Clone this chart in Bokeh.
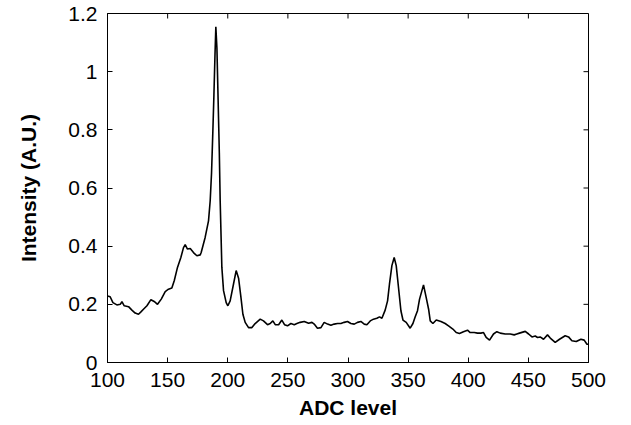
import math
from bokeh.plotting import figure
from bokeh.models import Range1d, FixedTicker, ColumnDataSource
from bokeh.embed import file_html
from bokeh.resources import INLINE

adc = [100, 102.2, 104.5, 107.8, 110.6, 112, 113.9, 117.5, 120.3, 123, 125.8, 127.8, 129.9,
       132.8, 136.1, 138.8, 141.6, 144.7, 148, 150.7, 153.5, 155.5, 158.2, 161, 163.2, 164.6,
       166.5, 168.8, 171.5, 174.3, 177.1, 177.9, 181.2, 184, 185.4, 186.5, 187.5, 188.5, 189.4,
       190.1, 191, 192, 193, 193.7, 195.1, 196.5, 198.7, 200.1, 202, 204.8, 207, 209,
       210.8, 212.6, 214.5, 217.3, 220.1, 222.8, 227, 229.7, 233.1, 235.3, 237.5, 239.5,
       242.3, 245, 247.2, 249.7, 252.5, 255.3, 257.5, 260.2, 263.6, 267.2, 270, 271.9, 274.6,
       277.5, 280.2, 283, 285.8, 288.5, 291.3, 294.1, 296.8, 299.6, 302.4, 305.2, 307.9,
       310.7, 313.5, 315.7, 318.5, 321.2, 324, 326.2, 328.2, 330.9, 332.9, 334.5, 336.5,
       338.4, 340.1, 342, 344, 345.7, 348.4, 351.7, 354, 355.9, 357.8, 359.5, 362.8, 365,
       367, 368.4, 370.6, 373.4, 377.3, 380.8, 383.6, 387.2, 390, 392.7, 396, 399.4, 401.6,
       405, 407.7, 410.5, 412.7, 414.9, 417.7, 421, 423.8, 426.6, 430.7, 434.9, 438.2, 440.4,
       442.6, 447.4, 450.2, 453, 455.7, 457.6, 459.8, 462.6, 465.9, 468.2, 472.3, 475.9,
       480.6, 483.4, 486.2, 489.8, 493.7, 496.4, 498.7, 500]

intensity = [0.229, 0.226, 0.206, 0.198, 0.200, 0.209, 0.195, 0.192, 0.180, 0.170, 0.166, 0.174, 0.183,
             0.195, 0.216, 0.210, 0.200, 0.218, 0.244, 0.252, 0.256, 0.281, 0.327, 0.361, 0.395, 0.405,
             0.390, 0.392, 0.378, 0.367, 0.370, 0.378, 0.430, 0.487, 0.556, 0.650, 0.780, 0.920, 1.060,
             1.154, 1.080, 0.900, 0.720, 0.556, 0.327, 0.247, 0.206, 0.195, 0.212, 0.270, 0.316, 0.290,
             0.230, 0.166, 0.138, 0.120, 0.120, 0.134, 0.149, 0.143, 0.130, 0.134, 0.143, 0.130,
             0.130, 0.146, 0.130, 0.126, 0.134, 0.130, 0.134, 0.138, 0.141, 0.135, 0.138, 0.132, 0.118,
             0.120, 0.138, 0.132, 0.128, 0.132, 0.134, 0.134, 0.138, 0.141, 0.134, 0.132, 0.138,
             0.141, 0.132, 0.130, 0.143, 0.149, 0.152, 0.157, 0.152, 0.180, 0.212, 0.270, 0.333,
             0.361, 0.333, 0.258, 0.178, 0.146, 0.138, 0.118, 0.134, 0.157, 0.178, 0.218, 0.267, 0.224,
             0.184, 0.143, 0.134, 0.146, 0.141, 0.134, 0.126, 0.115, 0.103, 0.100, 0.106, 0.111, 0.103,
             0.103, 0.101, 0.101, 0.103, 0.086, 0.077, 0.098, 0.106, 0.101, 0.098, 0.098, 0.095, 0.098,
             0.101, 0.107, 0.098, 0.088, 0.091, 0.086, 0.088, 0.080, 0.095, 0.084, 0.069, 0.080,
             0.092, 0.088, 0.075, 0.072, 0.080, 0.077, 0.063, 0.063]

x_ticks = [100, 150, 200, 250, 300, 350, 400, 450, 500]
y_ticks = [0, 0.2, 0.4, 0.6, 0.8, 1.0, 1.2]
y_tick_labels = ["0", "0.2", "0.4", "0.6", "0.8", "1", "1.2"]

x_label = "ADC level"
y_label = "Intensity (A.U.)"

X_MIN, X_MAX = 100, 500
Y_MIN, Y_MAX = 0, 1.2

FONT = "Liberation Sans"
FS = "21px"

p = figure(width=631, height=425, output_backend="svg", toolbar_location=None,
           x_range=Range1d(X_MIN, X_MAX), y_range=Range1d(Y_MIN, Y_MAX),
           min_border_left=107, min_border_right=43, min_border_top=13, min_border_bottom=63)
p.grid.visible = False
p.outline_line_color = "black"
p.outline_line_width = 1
p.background_fill_color = "white"
p.border_fill_color = "white"

src = ColumnDataSource(dict(x=adc, y=intensity))
p.line("x", "y", source=src, line_color="black", line_width=1.6)

# mirrored inward ticks on the top and right frame edges
p.ray(x=x_ticks, y=[Y_MAX] * len(x_ticks), length=5, length_units="screen",
      angle=-math.pi / 2, line_color="black", line_width=1)
p.ray(x=[X_MAX] * len(y_ticks), y=y_ticks, length=5, length_units="screen",
      angle=math.pi, line_color="black", line_width=1)

def style(ax):
    ax.axis_line_color = "black"
    ax.major_tick_in = 5
    ax.major_tick_out = 0
    ax.minor_tick_in = 0
    ax.minor_tick_out = 0
    ax.major_tick_line_color = "black"
    ax.major_label_text_font = FONT
    ax.major_label_text_color = "black"
    ax.major_label_text_font_size = FS
    ax.axis_label_text_font = FONT
    ax.axis_label_text_font_size = FS
    ax.axis_label_text_font_style = "bold"
    ax.axis_label_text_color = "black"

xa = p.xaxis[0]
xa.ticker = FixedTicker(ticks=x_ticks)
style(xa)
xa.major_label_standoff = 10
xa.axis_label = x_label
xa.axis_label_standoff = 6

ya = p.yaxis[0]
ya.ticker = FixedTicker(ticks=y_ticks)
ya.major_label_overrides = {t: s for t, s in zip(y_ticks, y_tick_labels)}
style(ya)
ya.major_label_standoff = 10
ya.axis_label = y_label
ya.axis_label_standoff = 25

open("out.html", "w").write(file_html(p, INLINE))
